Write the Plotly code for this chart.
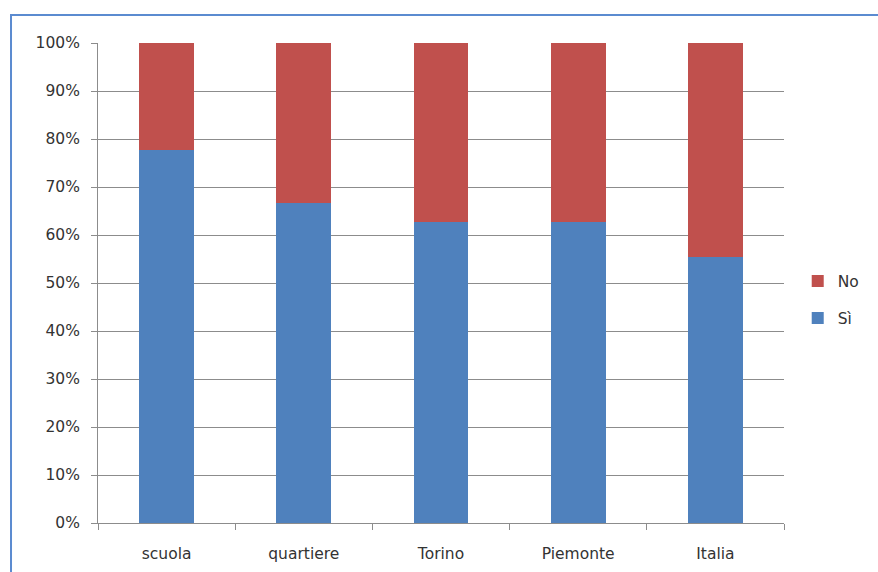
import plotly.graph_objects as go

categories = ["scuola", "quartiere", "Torino", "Piemonte", "Italia"]
si_share = [0.778, 0.667, 0.628, 0.628, 0.554]
no_share = [1 - v for v in si_share]

BLUE = "#4F81BD"
RED = "#C0504D"
GRID = "#8C8C8C"
FONT = dict(family="'DejaVu Sans', Verdana, sans-serif", size=15.5, color="#333333")

fig = go.Figure()
fig.add_trace(go.Bar(x=categories, y=si_share, name="Sì",
                     marker=dict(color=BLUE, line=dict(width=0)),
                     legendgroup="si", legendrank=2))
fig.add_trace(go.Bar(x=categories, y=no_share, name="No",
                     marker=dict(color=RED, line=dict(width=0)),
                     legendgroup="no", legendrank=1))

fig.update_layout(
    width=878, height=572,
    margin=dict(l=98, r=94, t=43, b=49, autoexpand=False),
    barmode="stack", bargap=0.6,
    paper_bgcolor="white", plot_bgcolor="white",
    font=FONT,
    showlegend=True,
    legend=dict(x=1.02, xanchor="left", y=0.465, yanchor="middle",
                traceorder="grouped", tracegroupgap=14,
                itemwidth=30, font=dict(size=15.5)),
    xaxis=dict(type="category", showline=True, linecolor=GRID, linewidth=1,
               ticks="outside", tickson="boundaries", ticklen=6, tickcolor=GRID,
               showgrid=False, ticklabelstandoff=16, automargin=False),
    yaxis=dict(range=[0, 1], dtick=0.1, tickformat=".0%", showline=True,
               linecolor=GRID, linewidth=1, ticks="outside", ticklen=6,
               tickcolor=GRID, showgrid=True, gridcolor=GRID, gridwidth=1,
               zeroline=False, ticklabelstandoff=8, automargin=False),
    shapes=[dict(type="rect", xref="paper", yref="paper",
                 x0=-0.1268, y0=-0.3, x1=1.3, y1=1.0583,
                 line=dict(color="#5B8BD0", width=2), layer="below")],
)

fig.write_html("out.html")
